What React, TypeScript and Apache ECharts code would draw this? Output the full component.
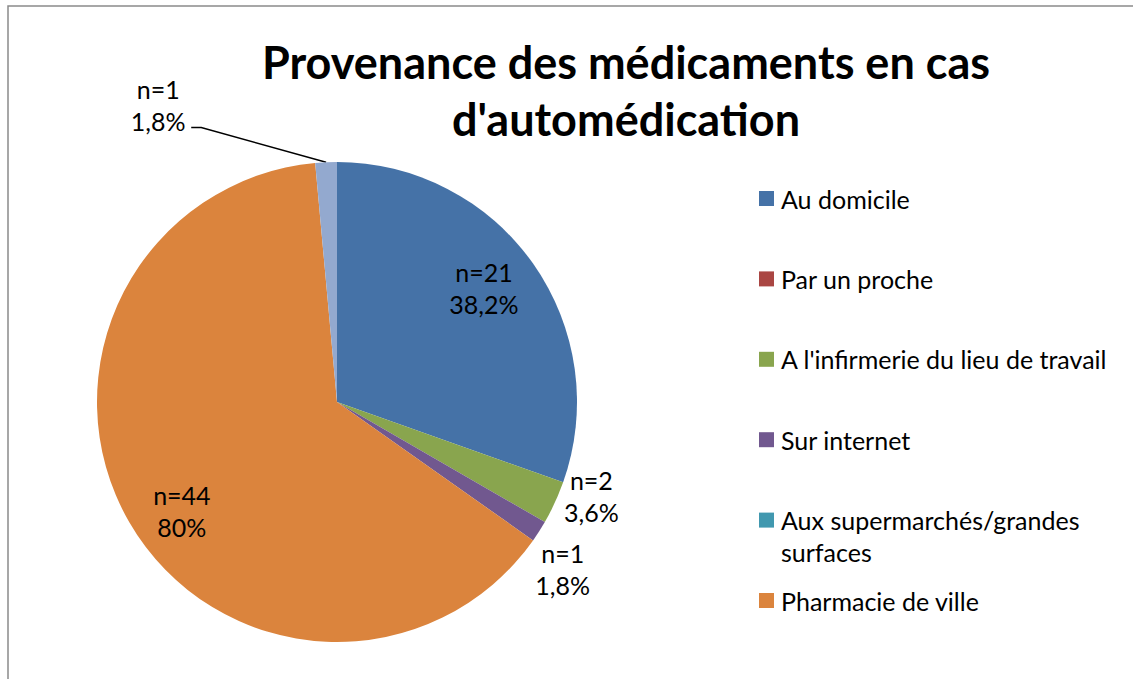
import React, { useEffect, useRef } from 'react';
import * as echarts from 'echarts';

// ---- data ----
const categories = [
  'Au domicile',
  'Par un proche',
  "A l'infirmerie du lieu de travail",
  'Sur internet',
  'Aux supermarchés/grandes surfaces',
  'Pharmacie de ville',
  'Autre',
];
const counts = [21, 0, 2, 1, 0, 44, 1];
const respondents = 55;
const legendCategories = categories.slice(0, 6);
const colors = ['#4572A7', '#AA4643', '#89A54E', '#71588F', '#4198AF', '#DB843D', '#93A9CF'];
const titleLines = ['Provenance des médicaments en cas', "d'automédication"];

// ---- layout / style ----
const FONT = 'Lato, "Liberation Sans", sans-serif';
const CX = 337;
const CY = 402;
const R = 240;
const labelPlacement: Record<number, { k: number; d: number }> = {
  0: { k: 0.775, d: -2.6 },
  2: { k: 1.13, d: -4.5 },
  3: { k: 1.17, d: 3.9 },
  5: { k: 0.79, d: -5.1 },
  6: { k: 1.446, d: -28.4 },
};

const total = counts.reduce((a, b) => a + b, 0);
function midAngle(i: number) {
  let before = 0;
  for (let j = 0; j < i; j++) before += counts[j];
  return ((before + counts[i] / 2) / total) * 360;
}
function polar(deg: number, r: number): [number, number] {
  const a = (deg * Math.PI) / 180;
  return [CX + r * Math.sin(a), CY - r * Math.cos(a)];
}
function fmtPct(n: number) {
  const v = Math.round((n / respondents) * 1000) / 10;
  const s = Number.isInteger(v) ? String(v) : v.toFixed(1);
  return s.replace('.', ',') + '%';
}

export default function App() {
  const ref = useRef<HTMLDivElement>(null);
  useEffect(() => {
    if (!ref.current) return;
    const chart = echarts.init(ref.current, null, { renderer: 'svg' });

    const legendTop0 = 198.5;
    const legendStep = 80.4;
    const legends = legendCategories.map((name, i) => {
      const multi = name.indexOf('/') >= 0;
      const center = legendTop0 + legendStep * i;
      return {
        orient: 'vertical',
        left: 759,
        top: center - (multi ? 48 : 16),
        padding: 0,
        data: [name],
        icon: 'rect',
        itemWidth: 15,
        itemHeight: 15,
        selectedMode: false,
        formatter: (n: string) =>
          n.indexOf('/') >= 0 ? '\nAux supermarchés/grandes\nsurfaces' : n,
        textStyle: {
          fontFamily: FONT,
          fontSize: 25,
          lineHeight: 32,
          color: '#000',
          padding: [0, 0, 0, 2],
        },
      };
    });

    chart.setOption({
      animation: false,
      color: colors,
      graphic: [
        {
          type: 'rect',
          z: -10,
          shape: { x: 8, y: 6, width: 1300, height: 900 },
          style: { fill: '#fff', stroke: '#8a8a8a', lineWidth: 1.5 },
        },
        {
          type: 'text',
          x: 626,
          y: 33,
          style: {
            text: titleLines.join('\n'),
            fontFamily: FONT,
            fontWeight: 'bold',
            fontSize: 45,
            lineHeight: 57,
            fill: '#000',
            align: 'center',
            verticalAlign: 'top',
          },
        },
      ],
      legend: legends,
      series: [
        {
          type: 'pie',
          center: [CX, CY],
          radius: R,
          startAngle: 90,
          clockwise: true,
          avoidLabelOverlap: false,
          silent: true,
          label: {
            fontFamily: FONT,
            fontSize: 25,
            lineHeight: 32,
            color: '#000',
            formatter: (p: any) => `n=${counts[p.dataIndex]}\n${fmtPct(counts[p.dataIndex])}`,
          },
          labelLine: { lineStyle: { color: '#000', width: 1.5 } },
          labelLayout: (params: any) => {
            const i = params.dataIndex;
            const p = labelPlacement[i];
            if (!p) return {};
            const m = midAngle(i);
            const [x, y] = polar(m + p.d, R * p.k);
            const out: any = { x, y, align: 'center', verticalAlign: 'middle' };
            if (i === 6) {
              const edge = polar(m, R);
              out.labelLinePoints = [edge, [x + 43, y + 23], [x + 33, y + 23]];
            }
            return out;
          },
          data: categories.map((name, i) => ({
            name,
            value: counts[i],
            label: {
              show: counts[i] > 0,
              position: i === 6 ? 'outside' : 'inside',
            },
            labelLine: { show: i === 6, length: 10, length2: 10 },
          })),
        },
      ],
    });
    return () => chart.dispose();
  }, []);
  return (
    <div
      ref={ref}
      style={{ position: 'absolute', left: 0, top: 0, width: 1133, height: 679, background: '#fff' }}
    />
  );
}
